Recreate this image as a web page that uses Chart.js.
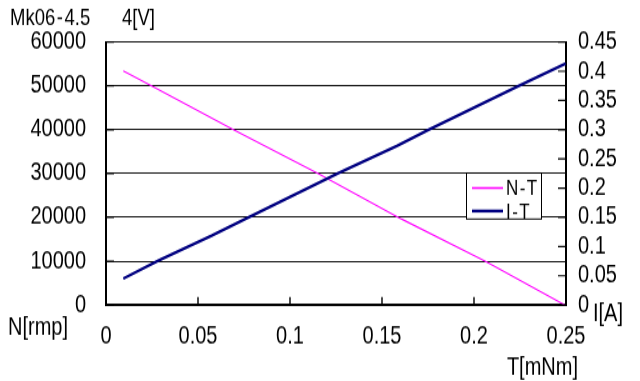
<!DOCTYPE html>
<html><head><meta charset="utf-8">
<script src="https://cdn.jsdelivr.net/npm/chart.js@4/dist/chart.umd.min.js"></script>
<style>
html,body{margin:0;padding:0;background:#fff;overflow:hidden;width:640px;height:381px}
#c{display:block;transform:scaleY(1.2492);transform-origin:0 0}
</style>
</head><body>
<canvas id="c" width="640" height="305"></canvas>
<script>
// ---- data ----
const torqueN  = [0.0094, 0.0248, 0.0692, 0.1154, 0.1607, 0.206, 0.2495];
const speedN   = [53400, 50000, 40000, 30000, 19600, 10000, 0];
const torqueI  = [0.0094, 0.0284, 0.0574, 0.0783, 0.1262, 0.158, 0.1753, 0.2241, 0.2498];
const currentI = [0.0452, 0.0759, 0.1186, 0.1515, 0.2255, 0.272, 0.2999, 0.3744, 0.4132];
const xTicks     = [0, 0.05, 0.1, 0.15, 0.2, 0.25];
const leftTicks  = [0, 10000, 20000, 30000, 40000, 50000, 60000];
const rightTicks = [0, 0.05, 0.1, 0.15, 0.2, 0.25, 0.3, 0.35, 0.4, 0.45];
const seriesNames = ['N-T', 'I-T'];
const titleModel = 'Mk06-4.5';
const titleVoltage = '4[V]';
const xTitle = 'T[mNm]';
const leftTitle = 'N[rmp]';
const rightTitle = 'I[A]';

const FONT = "'Liberation Sans', Arial, sans-serif";
const colN = '#FF00FF', colI = '#000080';
const SY = 1.2492; // vertical stretch of the page

const ptsN = torqueN.map((t, i) => ({x: t, y: speedN[i]}));
const ptsI = torqueI.map((t, i) => ({x: t, y: currentI[i]}));

const fmt = v => String(+(+v).toFixed(2));
const setTicks = arr => scale => { scale.ticks = arr.map(v => ({value: v})); };
const Y = y => y / SY;
const HS = String.fromCharCode(8202);

const decor = {
  id: 'decor',
  afterDraw(chart) {
    const ctx = chart.ctx;
    const xs = chart.scales.x, yl = chart.scales.y, yr = chart.scales.y1;
    const area = chart.chartArea;
    ctx.save();
    // inward tick marks
    ctx.strokeStyle = '#000';
    ctx.lineWidth = 1.4;
    ctx.beginPath();
    xTicks.forEach(v => { const p = xs.getPixelForValue(v); ctx.moveTo(p, area.bottom); ctx.lineTo(p, area.bottom - Y(8)); });
    ctx.stroke();
    ctx.lineWidth = 1.2;
    ctx.beginPath();
    rightTicks.forEach(v => { const p = yr.getPixelForValue(v); ctx.moveTo(area.right, p); ctx.lineTo(area.right - 8, p); });
    leftTicks.forEach(v => { const p = yl.getPixelForValue(v); ctx.moveTo(area.left, p); ctx.lineTo(area.left + 8, p); });
    ctx.stroke();

    // legend box
    const lx = 466, ly = Y(173), lw = 75, lh = Y(46);
    ctx.fillStyle = '#fff';
    ctx.fillRect(lx, ly, lw, lh);
    ctx.strokeStyle = '#000';
    ctx.lineWidth = 1;
    ctx.strokeRect(lx + 0.5, ly, lw, lh);
    const ds = chart.data.datasets;
    const rows = [Y(188), Y(211)];
    ds.forEach((d, i) => {
      ctx.strokeStyle = d.borderColor;
      ctx.lineWidth = i === 0 ? 1.6 : 2.4;
      ctx.beginPath();
      ctx.moveTo(lx + 6, rows[i]); ctx.lineTo(lx + 37, rows[i]);
      ctx.stroke();
      ctx.fillStyle = '#000';
      ctx.font = '17px ' + FONT;
      ctx.textBaseline = 'middle';
      ctx.textAlign = 'left';
      ctx.fillText(d.label.split('').join(HS), lx + 40, rows[i] + 1);
    });

    // titles
    ctx.fillStyle = '#000';
    ctx.textBaseline = 'middle';
    ctx.textAlign = 'left';
    ctx.font = '18.5px ' + FONT;
    ctx.fillText(titleModel.replace('-', HS + '-' + HS), 10, Y(19));
    ctx.fillText(titleVoltage, 122, Y(19));
    ctx.font = '20px ' + FONT;
    ctx.fillText(leftTitle, 8, Y(328));
    ctx.fillText(rightTitle, 593, Y(314));
    ctx.textAlign = 'right';
    ctx.fillText(xTitle, 578, Y(368));
    ctx.restore();
  }
};

new Chart(document.getElementById('c'), {
  type: 'scatter',
  data: {
    datasets: [
      { label: seriesNames[0], data: ptsN, yAxisID: 'y', showLine: true, borderColor: colN, backgroundColor: colN, borderWidth: 1.1, pointRadius: 0, order: 1 },
      { label: seriesNames[1], data: ptsI, yAxisID: 'y1', showLine: true, borderColor: colI, backgroundColor: colI, borderWidth: 2.4, pointRadius: 0, order: 0 }
    ]
  },
  options: {
    responsive: false,
    animation: false,
    devicePixelRatio: 1,
    layout: { padding: { top: Y(42), left: 0, right: 0, bottom: 0 } },
    plugins: { legend: { display: false }, tooltip: { enabled: false }, title: { display: false } },
    scales: {
      x: {
        type: 'linear', position: 'bottom', min: 0, max: 0.25,
        afterBuildTicks: setTicks(xTicks),
        afterFit: s => { s.height = 305 - Y(305); },
        grid: { display: false, drawTicks: false },
        border: { display: true, color: '#000', width: 1.6 },
        ticks: { color: '#000', padding: 13, maxRotation: 0, autoSkip: false, font: { family: FONT, size: 20 }, callback: fmt }
      },
      y: {
        type: 'linear', position: 'left', min: 0, max: 60000,
        afterBuildTicks: setTicks(leftTicks),
        afterFit: s => { s.width = 106; },
        grid: { color: '#111', lineWidth: 1, drawTicks: false },
        border: { display: true, color: '#000', width: 2 },
        ticks: { color: '#000', padding: 20, autoSkip: false, font: { family: FONT, size: 20 }, callback: v => String(v) }
      },
      y1: {
        type: 'linear', position: 'right', min: 0, max: 0.45,
        afterBuildTicks: setTicks(rightTicks),
        afterFit: s => { s.width = 74; },
        grid: { drawOnChartArea: false, drawTicks: false },
        border: { display: true, color: '#000', width: 2 },
        ticks: { color: '#000', padding: 12, autoSkip: false, font: { family: FONT, size: 20 }, callback: fmt }
      }
    }
  },
  plugins: [decor]
});
</script>
</body></html>
